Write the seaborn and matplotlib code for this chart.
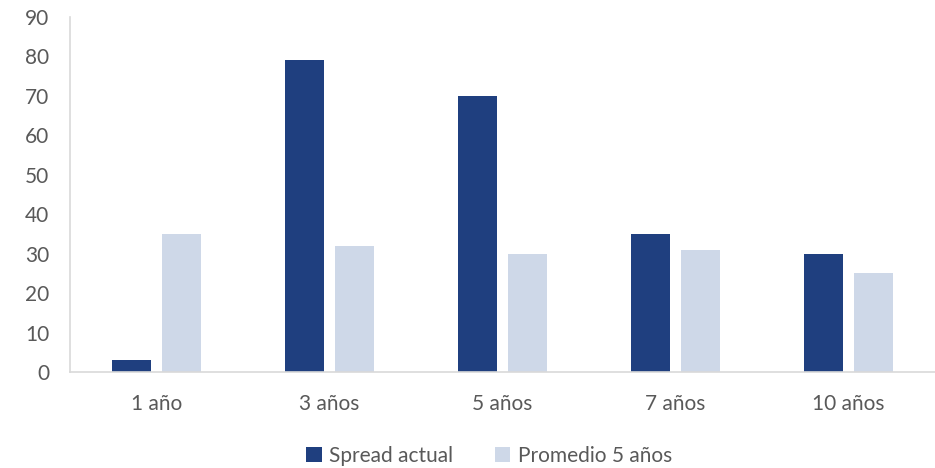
import matplotlib
matplotlib.use("Agg")
import matplotlib.pyplot as plt
import seaborn as sns
import pandas as pd
from matplotlib.patches import Patch

categories = ["1 año", "3 años", "5 años", "7 años", "10 años"]
spread_actual = [3, 79, 70, 35, 30]
promedio_5 = [35, 32, 30, 31, 25]
series_names = ["Spread actual", "Promedio 5 años"]
colors = ["#1F3F7F", "#CED8E8"]

df = pd.DataFrame({
    "cat": categories * 2,
    "val": spread_actual + promedio_5,
    "serie": [series_names[0]] * 5 + [series_names[1]] * 5,
})

sns.set_style("white")
plt.rcParams["font.family"] = ["Lato", "DejaVu Sans"]
text_color = "#595959"
axis_color = "#D9D9D9"

fig = plt.figure(figsize=(9.35, 4.68), dpi=100)
ax = fig.add_axes([70 / 935, 1 - 372 / 468, 865 / 935, (372 - 17) / 468])

sns.barplot(data=df, x="cat", y="val", hue="serie", palette=colors,
            width=0.578, gap=0.22, ax=ax, legend=False, saturation=1,
            edgecolor="none", linewidth=0)

ax.set_ylim(0, 90)
ax.set_yticks(range(0, 91, 10))
ax.set_xlim(-0.5, 4.5)
ax.set_xlabel("")
ax.set_ylabel("")
for s in ["top", "right"]:
    ax.spines[s].set_visible(False)
for s in ["left", "bottom"]:
    ax.spines[s].set_color(axis_color)
    ax.spines[s].set_linewidth(1.2)

ax.tick_params(axis="y", colors=axis_color, labelcolor=text_color, labelsize=15,
               length=6, width=1.2, direction="out", pad=9)
ax.tick_params(axis="x", which="major", length=0, labelcolor=text_color, labelsize=15, pad=16)
ax.set_xticks([i + 0.5 for i in range(-1, 5)], minor=True)
ax.tick_params(axis="x", which="minor", colors=axis_color, length=6, width=1.2, direction="out")

handles = [Patch(facecolor=c, edgecolor="none") for c in colors]
fig.legend(handles, series_names, loc="center", bbox_to_anchor=(0.523, 1 - 456 / 468),
           ncol=2, frameon=False, fontsize=15, labelcolor=text_color,
           handlelength=0.75, handleheight=0.75, handletextpad=0.35, columnspacing=2.0)

fig.savefig("out.png", dpi=100)
